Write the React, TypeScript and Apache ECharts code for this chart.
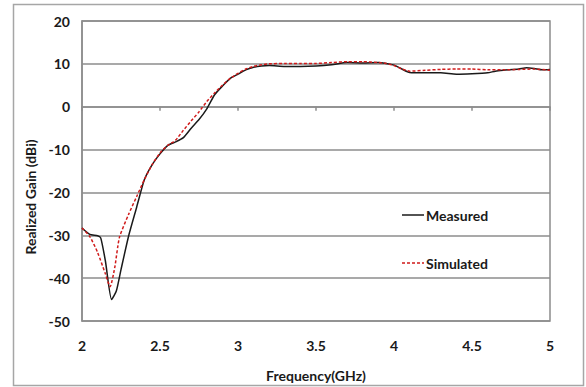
import React, { useEffect, useRef } from "react";
import * as echarts from "echarts";

const measuredFreq = [2.0, 2.05, 2.1, 2.12, 2.15, 2.19, 2.22, 2.25, 2.3, 2.35, 2.4, 2.45, 2.5, 2.55, 2.6, 2.65, 2.7, 2.75, 2.8, 2.85, 2.9, 2.95, 3.0, 3.05, 3.1, 3.15, 3.2, 3.3, 3.4, 3.5, 3.6, 3.7, 3.8, 3.9, 3.95, 4.0, 4.05, 4.1, 4.2, 4.3, 4.4, 4.5, 4.6, 4.65, 4.7, 4.8, 4.85, 4.9, 4.95, 5.0];
const measuredGain = [-28.3, -29.8, -30.1, -30.6, -36, -45, -43, -38, -30, -23.5, -17, -13.5, -11, -9, -8.2, -7.2, -5, -3, -0.5, 2.8, 4.8, 6.6, 7.6, 8.6, 9.2, 9.5, 9.6, 9.4, 9.4, 9.5, 9.8, 10.3, 10.2, 10.3, 10.1, 9.7, 8.8, 8.0, 7.9, 7.9, 7.6, 7.7, 7.9, 8.3, 8.5, 8.8, 9.1, 8.9, 8.6, 8.7];

const simFreq = [2.0, 2.05, 2.1, 2.15, 2.18, 2.21, 2.24, 2.3, 2.35, 2.4, 2.45, 2.5, 2.55, 2.6, 2.65, 2.7, 2.75, 2.8, 2.85, 2.9, 2.95, 3.0, 3.05, 3.1, 3.15, 3.2, 3.3, 3.4, 3.5, 3.6, 3.7, 3.8, 3.9, 3.95, 4.0, 4.05, 4.1, 4.2, 4.3, 4.4, 4.5, 4.6, 4.7, 4.8, 4.9, 5.0];
const simGain = [-28.3, -30.3, -34, -39, -42, -37.5, -30.5, -25, -21, -17, -13.5, -10.8, -9, -7.8, -5.5, -3.3, -1.2, 1.2, 3.2, 5, 6.6, 7.8, 8.8, 9.4, 9.8, 10, 10.1, 10.1, 10.1, 10.3, 10.5, 10.5, 10.3, 10.1, 9.6, 8.8, 8.3, 8.5, 8.7, 8.8, 8.8, 8.6, 8.6, 8.7, 8.8, 8.5];

const xTicks = [2, 2.5, 3, 3.5, 4, 4.5, 5];
const yTicks = [-50, -40, -30, -20, -10, 0, 10, 20];
const seriesNames = ["Measured", "Simulated"];

const FONT = "Lato, 'Open Sans', sans-serif";

export default function App() {
  const ref = useRef<HTMLDivElement>(null);
  useEffect(() => {
    if (!ref.current) return;
    const chart = echarts.init(ref.current, null, { renderer: "svg" });
    const measured = measuredFreq.map((f, i) => [f, measuredGain[i]]);
    const simulated = simFreq.map((f, i) => [f, simGain[i]]);
    const gray = "#8c8c8c";
    const black = "#1a1a1a";
    const red = "#d01a1a";
    chart.setOption({
      animation: false,
      backgroundColor: "#fff",
      grid: { left: 82, right: 36, top: 21, bottom: 62, show: true, borderColor: gray, borderWidth: 1.5 },
      xAxis: [
        {
          type: "value",
          min: xTicks[0],
          max: xTicks[xTicks.length - 1],
          interval: 0.5,
          position: "bottom",
          axisLine: { show: false, onZero: false },
          axisTick: { show: false },
          splitLine: { show: false },
          axisLabel: { color: black, fontWeight: "bold", fontSize: 14, fontFamily: FONT, margin: 17 },
          name: "Frequency(GHz)",
          nameLocation: "middle",
          nameGap: 47,
          nameTextStyle: { color: black, fontWeight: "bold", fontSize: 14, fontFamily: FONT },
        },
        {
          type: "value",
          min: xTicks[0],
          max: xTicks[xTicks.length - 1],
          interval: 0.5,
          position: "bottom",
          axisLine: { show: true, onZero: true, lineStyle: { color: gray, width: 1.5 } },
          axisTick: { show: true, inside: false, length: 4, lineStyle: { color: gray, width: 1.5 } },
          splitLine: { show: false },
          axisLabel: { show: false },
        },
      ],
      yAxis: {
        type: "value",
        min: yTicks[0],
        max: yTicks[yTicks.length - 1],
        interval: 10,
        axisLine: { show: true, lineStyle: { color: gray, width: 1.5 } },
        axisTick: { show: false },
        splitLine: { show: true, lineStyle: { color: gray, width: 1.5 } },
        axisLabel: { color: black, fontWeight: "bold", fontSize: 14, fontFamily: FONT, margin: 12 },
      },
      graphic: [
        {
          type: "rect",
          shape: { x: 13.5, y: 4.5, width: 570, height: 381 },
          style: { fill: "none", stroke: "#a6a6a6", lineWidth: 1.5 },
          z: -1,
        },
        {
          type: "text",
          x: 30,
          y: 197,
          rotation: Math.PI / 2,
          style: {
            text: "Realized Gain (dBi)",
            fill: black,
            font: "bold 14px " + FONT,
            align: "center",
            verticalAlign: "middle",
          },
        },
        {
          type: "line",
          shape: { x1: 402, y1: 215, x2: 424, y2: 215 },
          style: { stroke: black, lineWidth: 1.5 },
        },
        {
          type: "text",
          x: 426,
          y: 215,
          style: { text: seriesNames[0], fill: black, font: "bold 14px " + FONT, verticalAlign: "middle" },
        },
        {
          type: "line",
          shape: { x1: 402, y1: 263, x2: 424, y2: 263 },
          style: { stroke: red, lineWidth: 1.5, lineDash: [3, 2] },
        },
        {
          type: "text",
          x: 426,
          y: 263,
          style: { text: seriesNames[1], fill: black, font: "bold 14px " + FONT, verticalAlign: "middle" },
        },
      ],
      series: [
        {
          name: seriesNames[0],
          type: "line",
          data: measured,
          xAxisIndex: 0,
          showSymbol: false,
          symbol: "none",
          smooth: 0.2,
          lineStyle: { color: black, width: 1.5 },
          itemStyle: { color: black },
          z: 3,
        },
        {
          name: seriesNames[1],
          type: "line",
          data: simulated,
          xAxisIndex: 0,
          showSymbol: false,
          symbol: "none",
          smooth: 0.2,
          lineStyle: { color: red, width: 1.5, type: [3, 2] },
          itemStyle: { color: red },
          z: 4,
        },
      ],
    });
    return () => chart.dispose();
  }, []);
  return <div ref={ref} style={{ position: "fixed", left: 0, top: 0, width: 586, height: 387 }} />;
}
